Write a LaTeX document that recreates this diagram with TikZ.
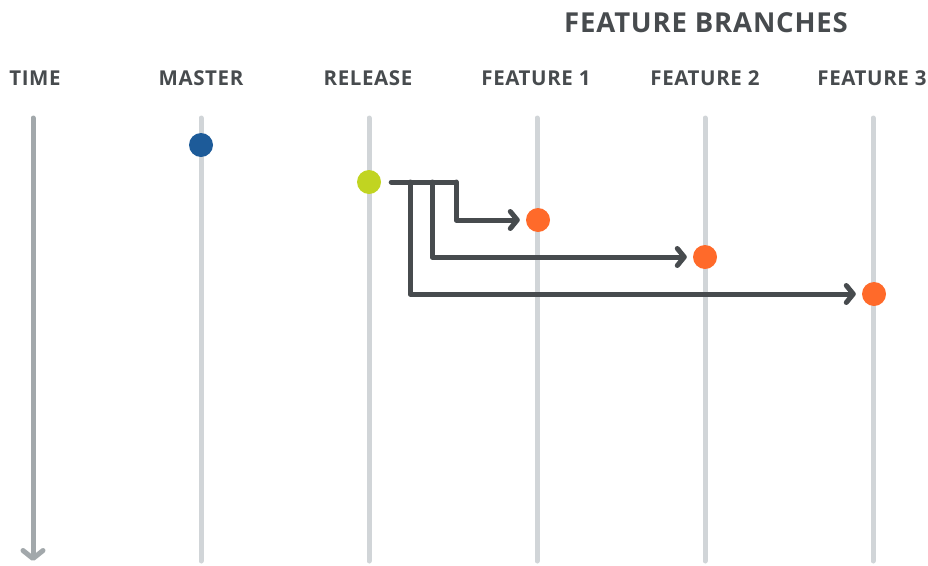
\documentclass[tikz,border=0pt]{standalone}
\usepackage{fontspec}
\setmainfont{Open Sans}[LetterSpace=3]
\usepackage{xcolor}
\definecolor{inkgrey}{HTML}{474B4E}
\definecolor{railgrey}{HTML}{D1D5D8}
\definecolor{timegrey}{HTML}{A2A8AB}
\definecolor{masterblue}{HTML}{1D5B99}
\definecolor{releaselime}{HTML}{C1D421}
\definecolor{featorange}{HTML}{FF6A2A}
\usepackage{tikz}
\usetikzlibrary{arrows.meta,positioning}

\tikzset{
  rail/.style={line width=5pt, railgrey, line cap=round},
  colhead/.style={anchor=base, text=inkgrey, font=\fontsize{20.5}{20.5}\selectfont\bfseries},
  commit/.style={circle, inner sep=0pt, minimum size=24pt},
  chevron/.style={-{Straight Barb[length=7pt, width=17pt, line cap=round, line join=round]}},
  branch/.style={line width=5pt, inkgrey, line join=round, line cap=round, chevron, shorten >=6pt}
}

\begin{document}
\begin{tikzpicture}[x=1pt, y=-1pt]
    \useasboundingbox (0,0) rectangle (928,565);

    % Headings
    \node[colhead, font=\fontsize{27.5}{27.5}\selectfont\bfseries] (branches) at (706,32) {FEATURE BRANCHES};
    \node[colhead] (timelbl) at (35,85) {TIME};
    \node[colhead] (masterlbl) at (201,85) {MASTER};
    \node[colhead] (releaselbl) at (368,85) {RELEASE};
    \node[colhead] (feat1lbl) at (536,85) {FEATURE 1};
    \node[colhead] (feat2lbl) at (705,85) {FEATURE 2};
    \node[colhead] (feat3lbl) at (872,85) {FEATURE 3};

    % Time axis
    \draw[line width=5pt, timegrey, line cap=round,
          -{Straight Barb[length=8pt, width=20pt, line cap=round, line join=round]}] (33,118) -- (33,561);

    % Branch rails
    \draw[rail] (201,118) -- (201,561);
    \draw[rail] (369,118) -- (369,561);
    \draw[rail] (537,118) -- (537,561);
    \draw[rail] (705,118) -- (705,561);
    \draw[rail] (873,118) -- (873,561);

    % Commits
    \node[commit, fill=masterblue] (master) at (201,145) {};
    \node[commit, fill=releaselime] (release) at (369,182) {};
    \node[commit, fill=featorange] (feat1) at (538,220) {};
    \node[commit, fill=featorange] (feat2) at (705,257) {};
    \node[commit, fill=featorange] (feat3) at (874,294) {};

    % Branching off the release
    \coordinate (fork) at ([xshift=10pt]release.east);
    \draw[line width=5pt, inkgrey, line cap=round, line join=round] (fork) -- (456,182);
    \draw[branch] (456,182) |- (feat1.west);
    \draw[branch] (432,182) |- (feat2.west);
    \draw[branch] (410,182) |- (feat3.west);
\end{tikzpicture}
\end{document}
